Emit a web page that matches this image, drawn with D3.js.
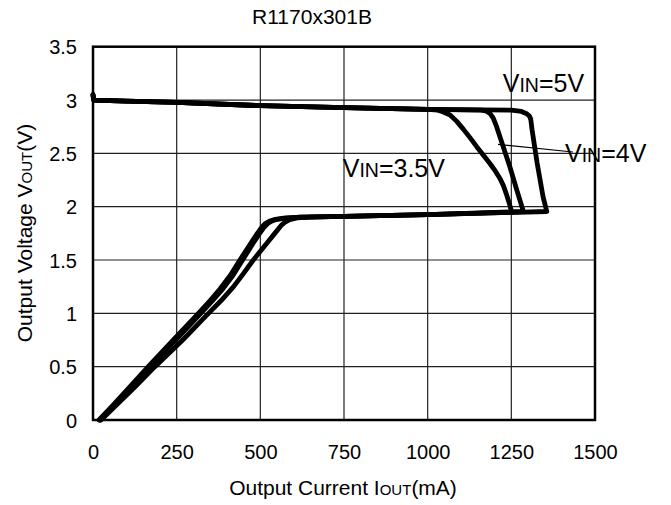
<!DOCTYPE html>
<html>
<head>
<meta charset="utf-8">
<script src="https://cdn.jsdelivr.net/npm/d3@7"></script>
<style>
  html, body { margin: 0; padding: 0; background: #fff; }
  svg { display: block; font-family: "Liberation Sans", Arial, sans-serif; }
</style>
</head>
<body>
<svg id="chart" width="671" height="505"></svg>
<script>
// ---- data ----
const xTicks = [0, 250, 500, 750, 1000, 1250, 1500];
const xTickLabels = ["0", "250", "500", "750", "1000", "1250", "1500"];
const yTicks = [0, 0.5, 1, 1.5, 2, 2.5, 3, 3.5];
const yTickLabels = ["0", "0.5", "1", "1.5", "2", "2.5", "3", "3.5"];

// shared upper segment (IOUT mA, VOUT V)
const topSegment = [[0,3.05],[2,3.0],[100,2.99],[250,2.978],[500,2.947],[750,2.928],[1000,2.912]];

const vin35 = [[1030,2.905],[1045,2.89],[1067,2.86],[1087,2.80],[1107,2.725],[1127,2.645],[1146,2.565],[1166,2.485],[1186,2.405],[1202,2.335],[1216,2.265],[1226,2.2],[1235,2.12],[1244,2.03],[1251,1.948],
  [1000,1.925],[750,1.91],[620,1.902],[570,1.893],[545,1.882],[528,1.866],[515,1.842],[505,1.81],[490,1.745],[470,1.65],[439,1.5],[410,1.355],[380,1.23],[350,1.12],[315,1.0],[240,0.75],[165,0.5],[110,0.31],[60,0.14],[18,0]];

const vin4 = [[1160,2.905],[1176,2.895],[1186,2.875],[1196,2.83],[1206,2.75],[1226,2.56],[1246,2.37],[1266,2.16],[1286,1.955],
  [1000,1.925],[750,1.91],[620,1.902],[575,1.893],[551,1.882],[535,1.866],[522,1.842],[512,1.81],[497,1.745],[477,1.65],[447,1.5],[418,1.355],[388,1.23],[357,1.12],[322,1.0],[247,0.75],[170,0.5],[114,0.31],[63,0.14],[20,0]];

const vin5 = [[1250,2.905],[1280,2.893],[1296,2.872],[1304,2.85],[1308,2.82],[1312,2.72],[1327,2.41],[1345,2.09],[1356,1.955],
  [1000,1.925],[750,1.91],[650,1.903],[610,1.895],[588,1.878],[574,1.855],[564,1.83],[542,1.745],[520,1.66],[479,1.5],[450,1.375],[420,1.25],[383,1.12],[345,1.0],[268,0.75],[185,0.5],[125,0.31],[70,0.14],[24,0]];

const seriesList = [vin35, vin4, vin5];

// ---- layout ----
const L = 93, R = 595, T = 46.7, B = 420;
const svg = d3.select("#chart");
const x = d3.scaleLinear().domain([0, 1500]).range([L, R]);
const y = d3.scaleLinear().domain([0, 3.5]).range([B, T]);

// grid
svg.append("g").selectAll("line").data(xTicks.slice(1, -1)).join("line")
  .attr("x1", d => x(d)).attr("x2", d => x(d)).attr("y1", T).attr("y2", B)
  .attr("stroke", "#222").attr("stroke-width", 1.2);
svg.append("g").selectAll("line").data(yTicks.slice(1, -1)).join("line")
  .attr("y1", d => y(d)).attr("y2", d => y(d)).attr("x1", L).attr("x2", R)
  .attr("stroke", "#222").attr("stroke-width", 1.2);

// axes (labels only)
const xAxis = d3.axisBottom(x).tickValues(xTicks).tickFormat((d, i) => xTickLabels[i]).tickSize(0).tickPadding(0);
const gx = svg.append("g").attr("transform", `translate(0,${B})`).call(xAxis);
gx.select(".domain").remove();
gx.selectAll("text").attr("font-size", 20).attr("fill", "#000")
  .attr("font-family", "Liberation Sans, Arial, sans-serif")
  .attr("dy", null).attr("y", 38.5);

const yAxis = d3.axisLeft(y).tickValues(yTicks).tickFormat((d, i) => yTickLabels[i]).tickSize(0).tickPadding(16);
const gy = svg.append("g").attr("transform", `translate(${L},0)`).call(yAxis);
gy.select(".domain").remove();
gy.selectAll("text").attr("font-size", 20).attr("fill", "#000")
  .attr("font-family", "Liberation Sans, Arial, sans-serif")
  .attr("dy", "0.36em");

// frame
svg.append("rect").attr("x", L).attr("y", T).attr("width", R - L).attr("height", B - T)
  .attr("fill", "none").attr("stroke", "#000").attr("stroke-width", 2.5);

// curves
const line = d3.line().x(d => x(d[0])).y(d => y(d[1]));
svg.append("g").selectAll("path").data(seriesList).join("path")
  .attr("d", s => line(topSegment.concat(s)))
  .attr("fill", "none").attr("stroke", "#000").attr("stroke-width", 4.8)
  .attr("stroke-linejoin", "round").attr("stroke-linecap", "round");

// leader line for VIN=4V
svg.append("line").attr("x1", 498).attr("y1", 144.3).attr("x2", 573).attr("y2", 152)
  .attr("stroke", "#000").attr("stroke-width", 1.2);

// annotations
function vinLabel(px, py, rest) {
  const t = svg.append("text").attr("x", px).attr("y", py).attr("font-size", 25).attr("fill", "#000");
  t.append("tspan").text("V");
  t.append("tspan").attr("font-size", 19.5).text("IN");
  t.append("tspan").text(rest);
}
vinLabel(502.7, 91.7, "=5V");
vinLabel(565, 162, "=4V");
vinLabel(342.7, 176.7, "=3.5V");

// title
svg.append("text").attr("x", 312).attr("y", 24).attr("text-anchor", "middle")
  .attr("font-size", 21).attr("fill", "#000").text("R1170x301B");

// x title
const xt = svg.append("text").attr("x", 343).attr("y", 495).attr("text-anchor", "middle")
  .attr("font-size", 21).attr("fill", "#000");
xt.append("tspan").text("Output Current I");
xt.append("tspan").attr("font-size", 15).text("OUT");
xt.append("tspan").text("(mA)");

// y title
const yt = svg.append("text").attr("transform", `translate(32,233) rotate(-90)`).attr("text-anchor", "middle")
  .attr("font-size", 21).attr("fill", "#000");
yt.append("tspan").text("Output Voltage V");
yt.append("tspan").attr("font-size", 15).text("OUT");
yt.append("tspan").text("(V)");
</script>
</body>
</html>
